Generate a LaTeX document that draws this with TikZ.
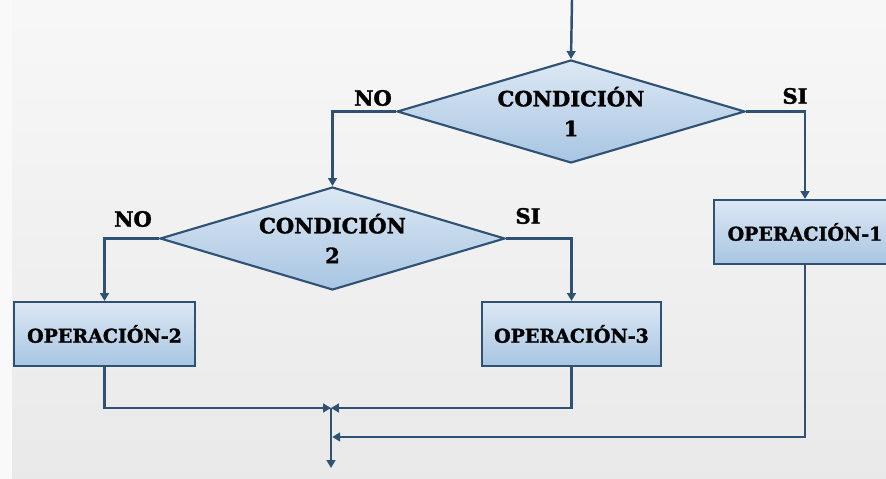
\documentclass[tikz,border=0pt]{standalone}
\usepackage{fontspec}
\setmainfont{DejaVu Serif}[BoldFeatures={FakeBold=1.5}]
\usetikzlibrary{shapes.geometric}
\usetikzlibrary{arrows.meta}
\definecolor{flujo}{HTML}{2F5173}
\definecolor{cajaarriba}{HTML}{DCE8F4}
\definecolor{cajaabajo}{HTML}{A8C5E2}
\tikzstyle{decision}=[diamond, draw=flujo, line width=1.2pt, top color=cajaarriba, bottom color=cajaabajo, aspect=3.38, inner sep=0pt, align=center, font=\bfseries\fontsize{12}{17}\selectfont]
\tikzstyle{operacion}=[rectangle, draw=flujo, line width=1.2pt, top color=cajaarriba, bottom color=cajaabajo, minimum height=1.28cm, inner sep=0pt, font=\bfseries\fontsize{10.8}{12}\selectfont]
\tikzstyle{rama}=[font=\bfseries\fontsize{12}{12}\selectfont]
\tikzstyle{linea}=[draw=flujo, line width=1.4pt]
\tikzstyle{flecha}=[linea, -{Triangle[length=4.5pt,width=5pt]}]

\begin{document}
\begin{tikzpicture}[x=0.02cm, y=-0.02cm]
		\shade[top color=gray!6, bottom color=gray!17] (0, 0) rectangle (886, 479);
		\fill[gray!5] (0, 0) rectangle (12, 479);
		\clip (0, 0) rectangle (886, 479);
		\useasboundingbox (0, 0) rectangle (886, 479);
		% condiciones
		\node(cond1)[decision, minimum width=6.96cm, minimum height=2.06cm] at (571, 111.5) {CONDICIÓN\\1};
		\node(cond2)[decision, minimum width=6.90cm, minimum height=2.06cm] at (332.5, 238.5) {CONDICIÓN\\2};
		% operaciones
		\node(op1)[operacion, minimum width=3.64cm] at (805, 232) {OPERACIÓN-1};
		\node(op2)[operacion, minimum width=3.62cm] at (104.5, 334) {OPERACIÓN-2};
		\node(op3)[operacion, minimum width=3.58cm] at (571.5, 334) {OPERACIÓN-3};
		% etiquetas
		\node(no1)[rama] at (373, 98) {NO};
		\node(si1)[rama] at (795, 96) {SI};
		\node(no2)[rama] at (133, 219) {NO};
		\node(si2)[rama] at (528, 216) {SI};
		% puntos de union
		\coordinate(entrada) at (572, 0);
		\coordinate(union) at (331, 408);
		\coordinate(union1) at (331, 437);
		\coordinate(salida) at (331, 468);
		% conectores
		\draw[flecha] (entrada) -- (cond1.north);
		\draw[flecha] (cond1.west) -| (cond2.north);
		\draw[flecha] (cond1.east) -| (op1.north);
		\draw[flecha] (cond2.west) -| (op2.north);
		\draw[flecha] (cond2.east) -| (op3.north);
		\draw[flecha] (op2.south) |- (union);
		\draw[flecha] (op3.south) |- (union);
		\draw[flecha] (op1.south) |- ([xshift=0.7pt]union1);
		\draw[flecha] (union) -- (salida);
		\end{tikzpicture}
\end{document}
